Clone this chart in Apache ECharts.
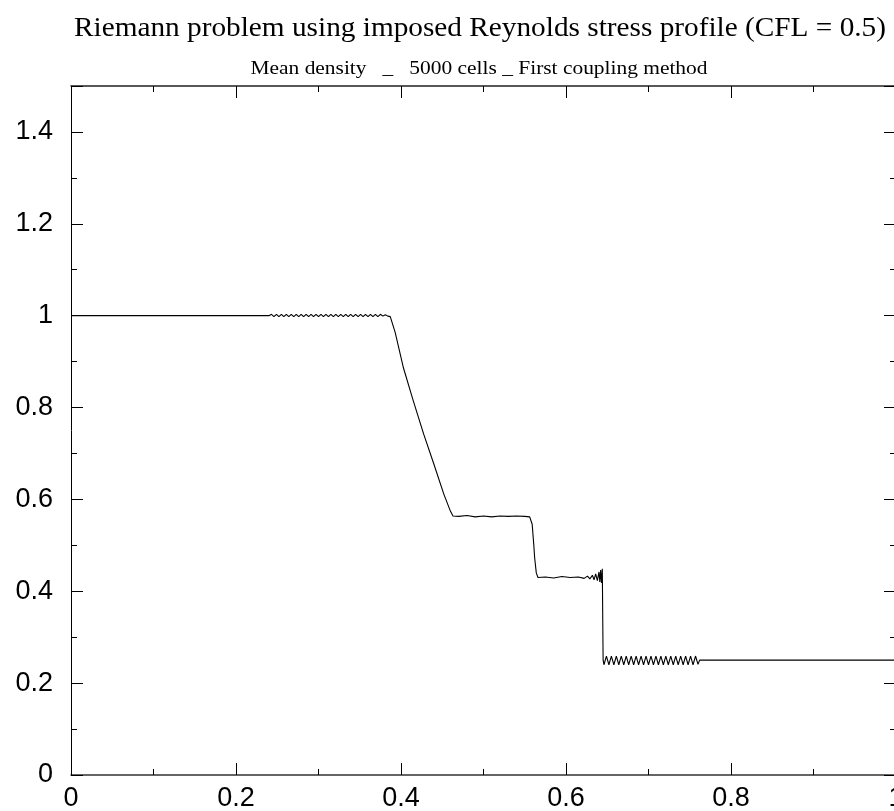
<!DOCTYPE html>
<html>
<head>
<meta charset="utf-8">
<script src="https://cdn.jsdelivr.net/npm/echarts@6/dist/echarts.min.js"></script>
<style>html,body{margin:0;padding:0;background:#fff;}#c{width:894px;height:811px;}</style>
</head>
<body>
<div id="c"></div>
<script>
// ---- data ----
const titleText = 'Riemann problem using imposed Reynolds stress profile (CFL = 0.5)';
const subtitleText = 'Mean density   _   5000 cells _ First coupling method';
const xTicks = [0, 0.2, 0.4, 0.6, 0.8, 1];
const yTicks = [0, 0.2, 0.4, 0.6, 0.8, 1, 1.2, 1.4];

// left state
const xLeft = [0, 0.240];
const yLeft = [1.0, 1.0];
// small oscillations on the left state
const xWiggle1 = [0.243,0.246,0.249,0.252,0.255,0.258,0.261,0.264,0.267,0.270,0.273,0.276,0.279,0.282,0.285,0.288,0.291,0.294,0.297,0.300,0.303,0.306,0.309,0.312,0.315,0.318,0.321,0.324,0.327,0.330,0.333,0.336,0.339,0.342,0.345,0.348,0.351,0.354,0.357,0.360,0.363,0.366,0.369,0.372,0.375,0.378,0.381,0.384];
const yWiggle1 = [1.003,0.998,1.003,0.998,1.003,0.998,1.003,0.998,1.003,0.998,1.003,0.998,1.003,0.998,1.003,0.998,1.003,0.998,1.003,0.998,1.003,0.998,1.003,0.998,1.003,0.998,1.003,0.998,1.003,0.998,1.003,0.998,1.003,0.998,1.003,0.998,1.003,0.998,1.003,0.998,1.003,0.998,1.003,0.998,1.003,0.999,1.002,0.999];
// rarefaction fan
const xRaref = [0.387,0.393,0.403,0.415,0.4275,0.440,0.452,0.460,0.463];
const yRaref = [0.998,0.963,0.886,0.814,0.742,0.676,0.611,0.574,0.564];
// first plateau
const xPlat1 = [0.470,0.480,0.490,0.500,0.510,0.520,0.530,0.540,0.550,0.556];
const yPlat1 = [0.563,0.565,0.562,0.564,0.562,0.564,0.563,0.564,0.563,0.562];
// contact discontinuity
const xContact = [0.559,0.561,0.562,0.564,0.566];
const yContact = [0.546,0.500,0.473,0.440,0.430];
// second plateau with oscillations growing towards the shock
const xPlat2 = [0.575,0.585,0.595,0.605,0.615,0.622,0.626,0.629,0.632,0.634,0.636,0.638,0.640,0.641,0.642,0.643,0.644,0.645];
const yPlat2 = [0.431,0.429,0.432,0.430,0.431,0.428,0.433,0.427,0.435,0.425,0.438,0.423,0.442,0.420,0.446,0.418,0.449,0.250];
// oscillations behind the shock
const xWiggle2 = [0.646,0.649,0.652,0.655,0.658,0.661,0.664,0.667,0.670,0.673,0.676,0.679,0.682,0.685,0.688,0.691,0.694,0.697,0.700,0.703,0.706,0.709,0.712,0.715,0.718,0.721,0.724,0.727,0.730,0.733,0.736,0.739,0.742,0.745,0.748,0.751,0.754,0.757,0.760];
const yWiggle2 = [0.240,0.259,0.240,0.259,0.240,0.259,0.240,0.259,0.240,0.259,0.240,0.259,0.240,0.259,0.240,0.259,0.240,0.259,0.240,0.259,0.240,0.259,0.240,0.259,0.240,0.259,0.240,0.259,0.240,0.259,0.240,0.259,0.240,0.259,0.240,0.259,0.240,0.259,0.241];
// right state
const xRight = [0.762, 1.0];
const yRight = [0.250, 0.250];

const segX = [xLeft, xWiggle1, xRaref, xPlat1, xContact, xPlat2, xWiggle2, xRight];
const segY = [yLeft, yWiggle1, yRaref, yPlat1, yContact, yPlat2, yWiggle2, yRight];
const data = [];
segX.forEach((xs, i) => xs.forEach((x, j) => data.push([x, segY[i][j]])));

const labelFont = 'Liberation Sans, Helvetica, Arial, sans-serif';
const serif = '"Liberation Serif", "Times New Roman", serif';

// scale the heading texts horizontally to the widths measured on the reference
const ctx = document.createElement('canvas').getContext('2d');
function fitScale(text, size, targetWidth) {
  ctx.font = size + 'px ' + serif;
  return targetWidth / ctx.measureText(text).width;
}
const titleSize = 27, subSize = 19;
const titleScale = fitScale(titleText, titleSize, 812);
const subScale = fitScale(subtitleText, subSize, 457);

const chart = echarts.init(document.getElementById('c'), null, {renderer: 'canvas'});
const axisCommon = {
  type: 'value',
  axisLine: {show: true, onZero: false, lineStyle: {color: '#000', width: 1}},
  axisTick: {show: true, inside: true, length: 12, lineStyle: {color: '#000', width: 1}},
  minorTick: {show: true, splitNumber: 2, length: 6, lineStyle: {color: '#000', width: 1}},
  splitLine: {show: false},
  minorSplitLine: {show: false}
};
chart.setOption({
  animation: false,
  backgroundColor: '#fff',
  graphic: [
    {type: 'text', x: 480, y: 29, scaleX: titleScale, silent: true,
      style: {text: titleText, font: titleSize + 'px ' + serif, fill: '#000', textAlign: 'center', textVerticalAlign: 'middle'}},
    {type: 'text', x: 479, y: 69, scaleX: subScale, silent: true,
      style: {text: subtitleText, font: subSize + 'px ' + serif, fill: '#000', textAlign: 'center', textVerticalAlign: 'middle'}}
  ],
  grid: {left: 71, top: 86, width: 825, bottom: 36, containLabel: false, outerBoundsMode: 'none'},
  xAxis: [
    Object.assign({}, axisCommon, {position: 'bottom', min: 0, max: 1, interval: 0.2,
      axisLine: {show: true, onZero: false, lineStyle: {color: '#333', width: 1.5}},
      axisLabel: {show: true, fontFamily: labelFont, fontSize: 27, color: '#000', margin: 10,
        formatter: v => xTicks.includes(+v.toFixed(2)) ? String(+v.toFixed(2)) : ''}}),
    Object.assign({}, axisCommon, {position: 'top', min: 0, max: 1, interval: 0.2,
      axisLine: {show: true, onZero: false, lineStyle: {color: '#222', width: 1.5}},
      axisLabel: {show: false}})
  ],
  yAxis: [
    Object.assign({}, axisCommon, {position: 'left', min: 0, max: 1.5, interval: 0.2,
      axisLabel: {show: true, fontFamily: labelFont, fontSize: 27, color: '#000', margin: 18, showMaxLabel: false,
        formatter: v => yTicks.includes(+v.toFixed(2)) ? String(+v.toFixed(2)) : ''}}),
    Object.assign({}, axisCommon, {position: 'right', min: 0, max: 1.5, interval: 0.2, axisLabel: {show: false}})
  ],
  series: [{
    type: 'line', data: data, showSymbol: false, symbol: 'none',
    lineStyle: {color: '#000', width: 1.1}, xAxisIndex: 0, yAxisIndex: 0
  }]
});
</script>
</body>
</html>
